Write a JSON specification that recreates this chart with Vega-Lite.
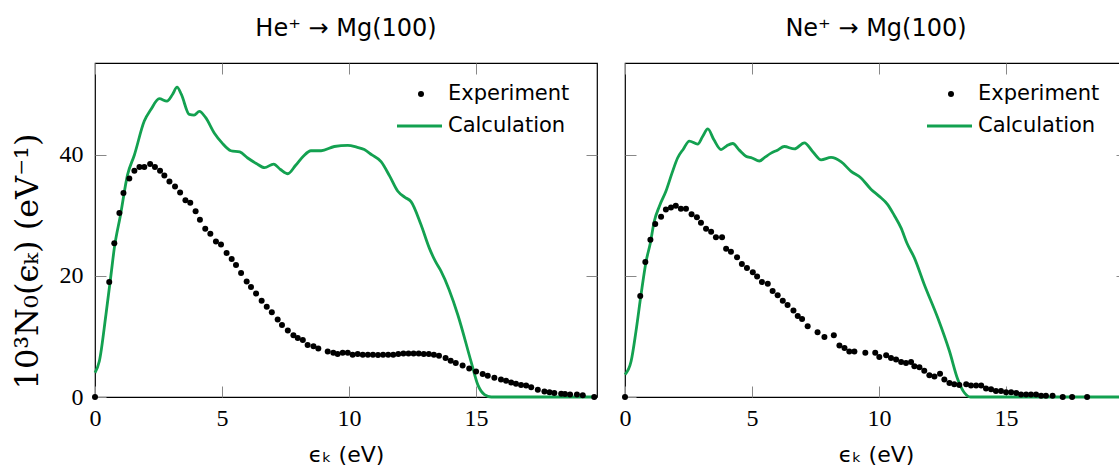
{
  "$schema": "https://vega.github.io/schema/vega-lite/v6.json",
  "background": "white",
  "padding": {"left": 10, "top": 15, "right": 0, "bottom": 0},
  "spacing": 14,
  "config": {
    "font": "DejaVu Sans",
    "view": {"stroke": "#000000", "strokeWidth": 1.2},
    "axis": {
      "domain": false, "grid": false, "tickColor": "#888888", "tickWidth": 1, "tickSize": -11,
      "labelFont": "Liberation Serif", "labelFontSize": 24, "labelColor": "#000000",
      "labelFlush": false, "labelOverlap": false,
      "titleFontWeight": "normal", "titleColor": "#000000"
    },
    "title": {"font": "DejaVu Sans", "fontSize": 24, "fontWeight": "normal", "color": "#000000", "offset": 22, "anchor": "middle"}
  },
  "resolve": {"scale": {"color": "independent"}, "legend": {"color": "independent"}},
  "datasets": {
    "heCalc": [
      {"e":0,"v":4.0,"series":"Calculation"},{"e":0.17,"v":5.9,"series":"Calculation"},{"e":0.43,"v":13.6,"series":"Calculation"},
      {"e":0.63,"v":20.2,"series":"Calculation"},{"e":0.76,"v":24.6,"series":"Calculation"},{"e":1.0,"v":30.0,"series":"Calculation"},
      {"e":1.28,"v":36.7,"series":"Calculation"},{"e":1.55,"v":40.0,"series":"Calculation"},{"e":1.94,"v":45.6,"series":"Calculation"},
      {"e":2.2,"v":47.5,"series":"Calculation"},{"e":2.53,"v":49.3,"series":"Calculation"},{"e":2.83,"v":48.9,"series":"Calculation"},
      {"e":3.05,"v":50.0,"series":"Calculation"},{"e":3.23,"v":51.2,"series":"Calculation"},{"e":3.4,"v":50.0,"series":"Calculation"},
      {"e":3.71,"v":46.7,"series":"Calculation"},{"e":3.9,"v":46.6,"series":"Calculation"},{"e":4.11,"v":47.2,"series":"Calculation"},
      {"e":4.35,"v":46.2,"series":"Calculation"},{"e":4.7,"v":43.6,"series":"Calculation"},{"e":5.0,"v":42.0,"series":"Calculation"},
      {"e":5.35,"v":40.7,"series":"Calculation"},{"e":5.7,"v":40.5,"series":"Calculation"},{"e":6.01,"v":39.5,"series":"Calculation"},
      {"e":6.35,"v":38.6,"series":"Calculation"},{"e":6.67,"v":37.9,"series":"Calculation"},{"e":7.03,"v":38.5,"series":"Calculation"},
      {"e":7.3,"v":37.6,"series":"Calculation"},{"e":7.59,"v":36.9,"series":"Calculation"},{"e":7.9,"v":38.3,"series":"Calculation"},
      {"e":8.2,"v":39.8,"series":"Calculation"},{"e":8.5,"v":40.7,"series":"Calculation"},{"e":8.9,"v":40.7,"series":"Calculation"},
      {"e":9.42,"v":41.4,"series":"Calculation"},{"e":9.95,"v":41.6,"series":"Calculation"},{"e":10.3,"v":41.3,"series":"Calculation"},
      {"e":10.6,"v":40.9,"series":"Calculation"},{"e":10.9,"v":40.0,"series":"Calculation"},{"e":11.26,"v":38.9,"series":"Calculation"},
      {"e":11.6,"v":36.5,"series":"Calculation"},{"e":11.92,"v":34.0,"series":"Calculation"},{"e":12.2,"v":33.0,"series":"Calculation"},
      {"e":12.44,"v":32.3,"series":"Calculation"},{"e":12.83,"v":28.5,"series":"Calculation"},{"e":13.16,"v":24.6,"series":"Calculation"},
      {"e":13.4,"v":22.4,"series":"Calculation"},{"e":13.62,"v":20.8,"series":"Calculation"},{"e":14.28,"v":13.6,"series":"Calculation"},
      {"e":14.8,"v":5.9,"series":"Calculation"},{"e":15.07,"v":2.0,"series":"Calculation"},{"e":15.33,"v":0.4,"series":"Calculation"},
      {"e":15.6,"v":0,"series":"Calculation"},{"e":19.76,"v":0,"series":"Calculation"}
    ],
    "heExp": [
      {"e":0,"v":0,"series":"Experiment"},{"e":0.56,"v":19.0,"series":"Experiment"},{"e":0.76,"v":25.4,"series":"Experiment"},
      {"e":0.96,"v":30.4,"series":"Experiment"},{"e":1.12,"v":33.7,"series":"Experiment"},{"e":1.35,"v":36.1,"series":"Experiment"},
      {"e":1.55,"v":37.4,"series":"Experiment"},{"e":1.75,"v":38.0,"series":"Experiment"},{"e":1.94,"v":38.0,"series":"Experiment"},
      {"e":2.17,"v":38.5,"series":"Experiment"},{"e":2.36,"v":38.0,"series":"Experiment"},{"e":2.56,"v":37.4,"series":"Experiment"},
      {"e":2.73,"v":36.6,"series":"Experiment"},{"e":2.93,"v":35.6,"series":"Experiment"},{"e":3.15,"v":34.8,"series":"Experiment"},
      {"e":3.35,"v":33.8,"series":"Experiment"},{"e":3.56,"v":32.5,"series":"Experiment"},{"e":3.75,"v":32.1,"series":"Experiment"},
      {"e":3.96,"v":30.7,"series":"Experiment"},{"e":4.13,"v":29.3,"series":"Experiment"},{"e":4.34,"v":27.8,"series":"Experiment"},
      {"e":4.54,"v":27.0,"series":"Experiment"},{"e":4.76,"v":25.7,"series":"Experiment"},{"e":4.96,"v":25.2,"series":"Experiment"},
      {"e":5.18,"v":23.8,"series":"Experiment"},{"e":5.38,"v":22.8,"series":"Experiment"},{"e":5.55,"v":21.8,"series":"Experiment"},
      {"e":5.75,"v":20.5,"series":"Experiment"},{"e":5.97,"v":19.1,"series":"Experiment"},{"e":6.14,"v":18.2,"series":"Experiment"},
      {"e":6.34,"v":17.1,"series":"Experiment"},{"e":6.56,"v":15.9,"series":"Experiment"},{"e":6.76,"v":14.9,"series":"Experiment"},
      {"e":6.96,"v":14.0,"series":"Experiment"},{"e":7.19,"v":12.8,"series":"Experiment"},{"e":7.36,"v":11.9,"series":"Experiment"},
      {"e":7.59,"v":11.0,"series":"Experiment"},{"e":7.81,"v":10.2,"series":"Experiment"},{"e":7.98,"v":9.75,"series":"Experiment"},
      {"e":8.18,"v":9.4,"series":"Experiment"},{"e":8.37,"v":8.6,"series":"Experiment"},{"e":8.6,"v":8.4,"series":"Experiment"},
      {"e":8.79,"v":8.0,"series":"Experiment"},{"e":9.16,"v":7.5,"series":"Experiment"},{"e":9.38,"v":7.3,"series":"Experiment"},
      {"e":9.55,"v":7.1,"series":"Experiment"},{"e":9.75,"v":7.3,"series":"Experiment"},{"e":9.95,"v":7.3,"series":"Experiment"},
      {"e":10.14,"v":7.0,"series":"Experiment"},{"e":10.34,"v":7.1,"series":"Experiment"},{"e":10.54,"v":7.0,"series":"Experiment"},
      {"e":10.74,"v":7.0,"series":"Experiment"},{"e":10.94,"v":7.0,"series":"Experiment"},{"e":11.14,"v":6.95,"series":"Experiment"},
      {"e":11.34,"v":7.0,"series":"Experiment"},{"e":11.54,"v":7.0,"series":"Experiment"},{"e":11.74,"v":7.0,"series":"Experiment"},
      {"e":11.94,"v":7.1,"series":"Experiment"},{"e":12.14,"v":7.2,"series":"Experiment"},{"e":12.34,"v":7.2,"series":"Experiment"},
      {"e":12.54,"v":7.2,"series":"Experiment"},{"e":12.74,"v":7.2,"series":"Experiment"},{"e":12.94,"v":7.1,"series":"Experiment"},
      {"e":13.14,"v":7.1,"series":"Experiment"},{"e":13.34,"v":7.0,"series":"Experiment"},{"e":13.54,"v":6.8,"series":"Experiment"},
      {"e":13.8,"v":6.45,"series":"Experiment"},{"e":14.0,"v":6.0,"series":"Experiment"},{"e":14.2,"v":5.6,"series":"Experiment"},
      {"e":14.47,"v":5.2,"series":"Experiment"},{"e":14.73,"v":4.7,"series":"Experiment"},{"e":15.0,"v":4.2,"series":"Experiment"},
      {"e":15.26,"v":3.8,"series":"Experiment"},{"e":15.46,"v":3.5,"series":"Experiment"},{"e":15.72,"v":3.2,"series":"Experiment"},
      {"e":15.98,"v":2.9,"series":"Experiment"},{"e":16.18,"v":2.7,"series":"Experiment"},{"e":16.38,"v":2.4,"series":"Experiment"},
      {"e":16.57,"v":2.2,"series":"Experiment"},{"e":16.77,"v":2.0,"series":"Experiment"},{"e":16.97,"v":1.9,"series":"Experiment"},
      {"e":17.17,"v":1.6,"series":"Experiment"},{"e":17.43,"v":1.2,"series":"Experiment"},{"e":17.69,"v":0.9,"series":"Experiment"},
      {"e":17.89,"v":0.8,"series":"Experiment"},{"e":18.08,"v":0.66,"series":"Experiment"},{"e":18.35,"v":0.55,"series":"Experiment"},
      {"e":18.5,"v":0.5,"series":"Experiment"},{"e":18.7,"v":0.4,"series":"Experiment"},{"e":18.97,"v":0.4,"series":"Experiment"},
      {"e":19.2,"v":0.3,"series":"Experiment"},{"e":19.65,"v":0.0,"series":"Experiment"}
    ],
    "neCalc": [
      {"e":0,"v":3.7,"series":"Calculation"},{"e":0.24,"v":5.9,"series":"Calculation"},{"e":0.43,"v":10.8,"series":"Calculation"},
      {"e":0.63,"v":16.9,"series":"Calculation"},{"e":0.83,"v":22.4,"series":"Calculation"},{"e":1.0,"v":25.5,"series":"Calculation"},
      {"e":1.15,"v":29.0,"series":"Calculation"},{"e":1.35,"v":31.5,"series":"Calculation"},{"e":1.61,"v":34.0,"series":"Calculation"},
      {"e":1.85,"v":37.0,"series":"Calculation"},{"e":2.07,"v":39.5,"series":"Calculation"},{"e":2.3,"v":41.0,"series":"Calculation"},
      {"e":2.53,"v":42.3,"series":"Calculation"},{"e":2.86,"v":41.8,"series":"Calculation"},{"e":3.05,"v":43.0,"series":"Calculation"},
      {"e":3.26,"v":44.3,"series":"Calculation"},{"e":3.5,"v":42.5,"series":"Calculation"},{"e":3.78,"v":40.9,"series":"Calculation"},
      {"e":4.0,"v":41.5,"series":"Calculation"},{"e":4.24,"v":41.9,"series":"Calculation"},{"e":4.5,"v":40.8,"series":"Calculation"},
      {"e":4.76,"v":39.8,"series":"Calculation"},{"e":5.0,"v":39.5,"series":"Calculation"},{"e":5.29,"v":39.0,"series":"Calculation"},
      {"e":5.5,"v":39.6,"series":"Calculation"},{"e":5.75,"v":40.3,"series":"Calculation"},{"e":6.0,"v":40.8,"series":"Calculation"},
      {"e":6.27,"v":41.4,"series":"Calculation"},{"e":6.67,"v":41.0,"series":"Calculation"},{"e":7.06,"v":42.0,"series":"Calculation"},
      {"e":7.4,"v":40.5,"series":"Calculation"},{"e":7.72,"v":39.2,"series":"Calculation"},{"e":8.11,"v":39.6,"series":"Calculation"},
      {"e":8.5,"v":38.9,"series":"Calculation"},{"e":8.9,"v":37.3,"series":"Calculation"},{"e":9.29,"v":36.2,"series":"Calculation"},
      {"e":9.69,"v":34.3,"series":"Calculation"},{"e":10.0,"v":33.2,"series":"Calculation"},{"e":10.34,"v":31.8,"series":"Calculation"},
      {"e":10.6,"v":30.0,"series":"Calculation"},{"e":10.87,"v":27.9,"series":"Calculation"},{"e":11.1,"v":25.4,"series":"Calculation"},
      {"e":11.39,"v":23.0,"series":"Calculation"},{"e":11.78,"v":18.6,"series":"Calculation"},{"e":12.31,"v":13.1,"series":"Calculation"},
      {"e":12.77,"v":7.6,"series":"Calculation"},{"e":13.1,"v":2.9,"series":"Calculation"},{"e":13.36,"v":0.7,"series":"Calculation"},
      {"e":13.6,"v":0,"series":"Calculation"},{"e":19.76,"v":0,"series":"Calculation"}
    ],
    "neExp": [
      {"e":0,"v":0,"series":"Experiment"},{"e":0.6,"v":16.7,"series":"Experiment"},{"e":0.8,"v":22.3,"series":"Experiment"},
      {"e":1.0,"v":26.0,"series":"Experiment"},{"e":1.19,"v":28.6,"series":"Experiment"},{"e":1.42,"v":29.8,"series":"Experiment"},
      {"e":1.61,"v":31.0,"series":"Experiment"},{"e":1.81,"v":31.3,"series":"Experiment"},{"e":2.0,"v":31.6,"series":"Experiment"},
      {"e":2.2,"v":31.1,"series":"Experiment"},{"e":2.4,"v":31.1,"series":"Experiment"},{"e":2.62,"v":30.2,"series":"Experiment"},
      {"e":2.83,"v":29.7,"series":"Experiment"},{"e":2.99,"v":28.8,"series":"Experiment"},{"e":3.19,"v":27.8,"series":"Experiment"},
      {"e":3.39,"v":27.3,"series":"Experiment"},{"e":3.58,"v":26.4,"series":"Experiment"},{"e":3.82,"v":26.4,"series":"Experiment"},
      {"e":3.98,"v":24.5,"series":"Experiment"},{"e":4.17,"v":24.0,"series":"Experiment"},{"e":4.41,"v":23.1,"series":"Experiment"},
      {"e":4.6,"v":22.0,"series":"Experiment"},{"e":4.8,"v":21.3,"series":"Experiment"},{"e":5.03,"v":20.6,"series":"Experiment"},
      {"e":5.2,"v":19.9,"series":"Experiment"},{"e":5.39,"v":19.0,"series":"Experiment"},{"e":5.62,"v":18.7,"series":"Experiment"},
      {"e":5.81,"v":17.5,"series":"Experiment"},{"e":6.01,"v":16.8,"series":"Experiment"},{"e":6.21,"v":15.9,"series":"Experiment"},
      {"e":6.4,"v":15.2,"series":"Experiment"},{"e":6.63,"v":14.3,"series":"Experiment"},{"e":6.8,"v":13.4,"series":"Experiment"},
      {"e":6.97,"v":12.9,"series":"Experiment"},{"e":7.19,"v":11.7,"series":"Experiment"},{"e":7.58,"v":10.7,"series":"Experiment"},
      {"e":7.85,"v":9.9,"series":"Experiment"},{"e":8.22,"v":10.2,"series":"Experiment"},{"e":8.44,"v":8.5,"series":"Experiment"},
      {"e":8.64,"v":8.1,"series":"Experiment"},{"e":8.83,"v":7.5,"series":"Experiment"},{"e":9.03,"v":7.5,"series":"Experiment"},
      {"e":9.46,"v":7.3,"series":"Experiment"},{"e":9.85,"v":7.3,"series":"Experiment"},{"e":10.01,"v":6.6,"series":"Experiment"},
      {"e":10.28,"v":6.9,"series":"Experiment"},{"e":10.47,"v":6.45,"series":"Experiment"},{"e":10.67,"v":6.2,"series":"Experiment"},
      {"e":10.87,"v":5.8,"series":"Experiment"},{"e":11.06,"v":5.6,"series":"Experiment"},{"e":11.26,"v":5.8,"series":"Experiment"},
      {"e":11.39,"v":5.1,"series":"Experiment"},{"e":11.59,"v":4.9,"series":"Experiment"},{"e":11.78,"v":4.35,"series":"Experiment"},
      {"e":11.98,"v":3.6,"series":"Experiment"},{"e":12.18,"v":3.4,"series":"Experiment"},{"e":12.4,"v":3.85,"series":"Experiment"},
      {"e":12.57,"v":2.9,"series":"Experiment"},{"e":12.77,"v":2.3,"series":"Experiment"},{"e":12.96,"v":2.1,"series":"Experiment"},
      {"e":13.16,"v":2.0,"series":"Experiment"},{"e":13.43,"v":2.1,"series":"Experiment"},{"e":13.62,"v":1.9,"series":"Experiment"},
      {"e":13.82,"v":1.9,"series":"Experiment"},{"e":14.02,"v":1.9,"series":"Experiment"},{"e":14.21,"v":1.4,"series":"Experiment"},
      {"e":14.41,"v":1.3,"series":"Experiment"},{"e":14.6,"v":1.0,"series":"Experiment"},{"e":14.8,"v":1.0,"series":"Experiment"},
      {"e":15.0,"v":0.8,"series":"Experiment"},{"e":15.2,"v":0.8,"series":"Experiment"},{"e":15.4,"v":0.66,"series":"Experiment"},
      {"e":15.59,"v":0.4,"series":"Experiment"},{"e":15.79,"v":0.4,"series":"Experiment"},{"e":15.98,"v":0.4,"series":"Experiment"},
      {"e":16.18,"v":0.4,"series":"Experiment"},{"e":16.38,"v":0.2,"series":"Experiment"},{"e":16.57,"v":0.2,"series":"Experiment"},
      {"e":16.83,"v":0.2,"series":"Experiment"},{"e":17.23,"v":0.0,"series":"Experiment"},{"e":17.6,"v":0.0,"series":"Experiment"},
      {"e":18.19,"v":0.0,"series":"Experiment"}
    ]
  },
  "hconcat": [
    {
      "width": 502, "height": 334,
      "title": {"text": "He⁺ → Mg(100)"},
      "layer": [
        {
          "data": {"name": "heCalc"},
          "mark": {"type": "line", "strokeWidth": 2.8, "interpolate": "monotone"},
          "encoding": {
            "x": {"field": "e", "type": "quantitative", "scale": {"domain": [0, 19.76], "nice": false, "zero": false},
                  "axis": {"orient": "bottom", "values": [0, 5, 10, 15], "labelPadding": 20, "title": "ϵₖ (eV)", "titleFont": "DejaVu Sans", "titleFontSize": 22, "titleY": 57, "titleBaseline": "middle"}},
            "y": {"field": "v", "type": "quantitative", "scale": {"domain": [0, 55.2], "nice": false},
                  "axis": {"orient": "left", "values": [0, 20, 40], "labelPadding": 23, "title": "10³N₀(ϵₖ) (eV⁻¹)", "titleFont": "DejaVu Serif", "titleFontSize": 32, "titleAngle": -90, "titleX": -68, "titleY": 198, "titleAlign": "center", "titleBaseline": "middle"}},
            "color": {"field": "series", "type": "nominal", "scale": {"domain": ["Experiment", "Calculation"], "range": ["#000000", "#13A150"]},
                      "legend": {"orient": "none", "legendX": 300, "legendY": 16, "title": null, "padding": 0, "labelFont": "DejaVu Sans", "labelFontSize": 21, "labelColor": "#000000", "labelOffset": 32, "clipHeight": 30, "rowPadding": 2, "symbolOffset": 0,
                        "symbolType": "stroke", "symbolSize": 2025, "symbolStrokeWidth": 3,
                        "encode": {"symbols": {"update": {
                          "x": {"signal": "datum.value === 'Calculation' ? 24.5 : 26"},
                          "shape": {"signal": "datum.value === 'Calculation' ? 'stroke' : 'circle'"},
                          "size": {"signal": "datum.value === 'Calculation' ? 2025 : 36"},
                          "strokeWidth": {"signal": "datum.value === 'Calculation' ? 3 : 0"},
                          "fill": {"signal": "datum.value === 'Calculation' ? 'transparent' : '#000000'"},
                          "stroke": {"signal": "datum.value === 'Calculation' ? '#13A150' : '#000000'"},
                          "opacity": {"value": 1}
                        }}}}}
          }
        },
        {
          "data": {"name": "heExp"},
          "mark": {"type": "point", "filled": true, "size": 36, "opacity": 1},
          "encoding": {
            "x": {"field": "e", "type": "quantitative", "scale": {"domain": [0, 19.76], "nice": false, "zero": false},
                  "axis": {"orient": "top", "values": [0, 5, 10, 15], "labels": false, "title": null}},
            "y": {"field": "v", "type": "quantitative", "scale": {"domain": [0, 55.2], "nice": false},
                  "axis": {"orient": "right", "values": [0, 20, 40], "labels": false, "title": null}},
            "color": {"field": "series", "type": "nominal", "scale": {"domain": ["Experiment", "Calculation"], "range": ["#000000", "#13A150"]}}
          }
        }
      ]
    },
    {
      "width": 502, "height": 334,
      "title": {"text": "Ne⁺ → Mg(100)"},
      "layer": [
        {
          "data": {"name": "neCalc"},
          "mark": {"type": "line", "strokeWidth": 2.8, "interpolate": "monotone"},
          "encoding": {
            "x": {"field": "e", "type": "quantitative", "scale": {"domain": [0, 19.76], "nice": false, "zero": false},
                  "axis": {"orient": "bottom", "values": [0, 5, 10, 15], "labelPadding": 20, "title": "ϵₖ (eV)", "titleFont": "DejaVu Sans", "titleFontSize": 22, "titleY": 57, "titleBaseline": "middle"}},
            "y": {"field": "v", "type": "quantitative", "scale": {"domain": [0, 55.2], "nice": false},
                  "axis": {"orient": "left", "values": [0, 20, 40], "labels": false, "title": null}},
            "color": {"field": "series", "type": "nominal", "scale": {"domain": ["Experiment", "Calculation"], "range": ["#000000", "#13A150"]},
                      "legend": {"orient": "none", "legendX": 300, "legendY": 16, "title": null, "padding": 0, "labelFont": "DejaVu Sans", "labelFontSize": 21, "labelColor": "#000000", "labelOffset": 32, "clipHeight": 30, "rowPadding": 2, "symbolOffset": 0,
                        "symbolType": "stroke", "symbolSize": 2025, "symbolStrokeWidth": 3,
                        "encode": {"symbols": {"update": {
                          "x": {"signal": "datum.value === 'Calculation' ? 24.5 : 26"},
                          "shape": {"signal": "datum.value === 'Calculation' ? 'stroke' : 'circle'"},
                          "size": {"signal": "datum.value === 'Calculation' ? 2025 : 36"},
                          "strokeWidth": {"signal": "datum.value === 'Calculation' ? 3 : 0"},
                          "fill": {"signal": "datum.value === 'Calculation' ? 'transparent' : '#000000'"},
                          "stroke": {"signal": "datum.value === 'Calculation' ? '#13A150' : '#000000'"},
                          "opacity": {"value": 1}
                        }}}}}
          }
        },
        {
          "data": {"name": "neExp"},
          "mark": {"type": "point", "filled": true, "size": 36, "opacity": 1},
          "encoding": {
            "x": {"field": "e", "type": "quantitative", "scale": {"domain": [0, 19.76], "nice": false, "zero": false},
                  "axis": {"orient": "top", "values": [0, 5, 10, 15], "labels": false, "title": null}},
            "y": {"field": "v", "type": "quantitative", "scale": {"domain": [0, 55.2], "nice": false},
                  "axis": {"orient": "right", "values": [0, 20, 40], "labels": false, "title": null}},
            "color": {"field": "series", "type": "nominal", "scale": {"domain": ["Experiment", "Calculation"], "range": ["#000000", "#13A150"]}}
          }
        }
      ]
    }
  ]
}
